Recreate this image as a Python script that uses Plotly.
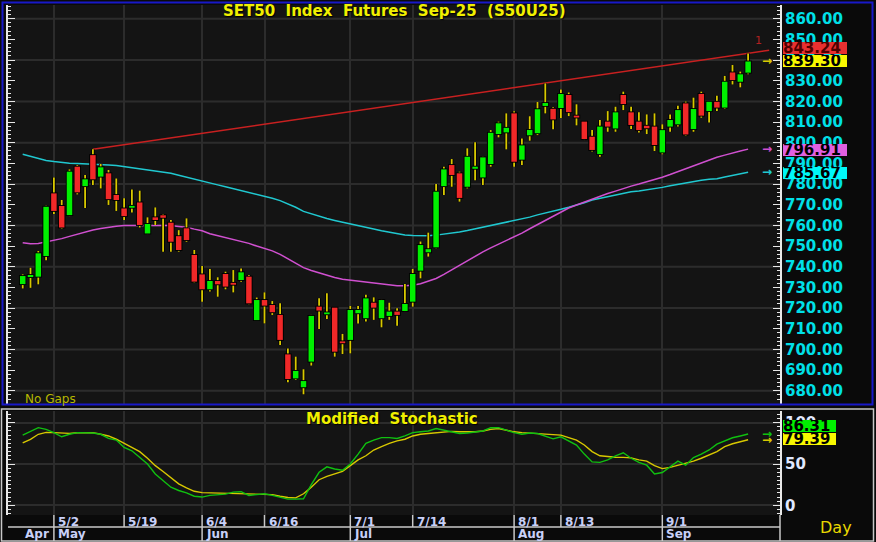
import plotly.graph_objects as go

W, H = 876, 542

# ---------------- data ----------------
opens = [731.6, 735.0, 735.2, 745.2, 775.5, 769.4, 765.0, 788.4, 779.0, 794.0,
         783.6, 785.2, 774.7, 768.2, 768.6, 771.1, 756.1, 763.9, 764.9, 761.3,
         754.8, 758.6, 745.7, 736.3, 729.1, 733.1, 736.5, 732.0, 733.6, 735.2,
         714.2, 723.9, 721.5, 716.7, 697.6, 686.0, 681.7, 694.1, 720.7, 717.1,
         720.2, 703.6, 704.6, 717.5, 715.1, 722.6, 715.1, 716.2, 718.3, 718.6,
         723.1, 738.1, 747.0, 749.4, 779.0, 789.2, 785.2, 778.7, 787.4, 783.2,
         789.7, 804.2, 805.0, 814.2, 791.8, 803.6, 804.6, 817.8, 816.4, 816.8,
         823.1, 812.8, 810.2, 802.9, 794.5, 810.2, 806.9, 823.1, 814.7, 810.2,
         808.2, 807.8, 795.3, 807.8, 808.9, 819.0, 806.6, 823.6, 815.3, 819.8,
         817.0, 834.0, 829.5, 833.9]
highs = [736.3, 739.5, 747.6, 769.5, 783.2, 772.3, 787.1, 789.2, 784.4, 796.8,
         789.7, 786.8, 782.7, 773.1, 777.4, 776.8, 763.9, 768.7, 765.5, 762.6,
         757.7, 763.4, 748.1, 740.4, 738.9, 734.9, 737.6, 738.4, 739.2, 736.0,
         725.1, 727.6, 723.4, 722.3, 700.5, 696.5, 690.4, 716.7, 724.7, 727.2,
         720.5, 707.5, 721.0, 721.0, 726.4, 725.2, 724.3, 722.6, 719.9, 731.7,
         738.9, 752.2, 756.5, 780.0, 788.4, 792.1, 786.0, 797.3, 800.2, 793.2,
         806.1, 810.2, 814.2, 815.2, 802.1, 812.8, 819.7, 828.7, 817.2, 825.8,
         824.3, 818.6, 810.5, 806.1, 811.0, 815.3, 817.4, 824.7, 817.4, 814.7,
         813.7, 814.2, 808.9, 813.7, 817.9, 819.9, 821.8, 824.7, 820.2, 822.7,
         832.3, 837.6, 834.4, 843.2]
lows = [729.5, 729.8, 731.5, 743.2, 765.5, 758.4, 764.5, 775.0, 768.4, 779.5,
        777.9, 769.9, 767.0, 762.6, 766.3, 759.0, 755.8, 760.2, 747.3, 747.3,
        747.3, 752.1, 732.3, 723.1, 728.0, 725.5, 729.1, 727.6, 732.8, 721.8,
        713.9, 712.6, 716.7, 702.2, 684.1, 685.2, 678.3, 692.2, 709.9, 714.7,
        696.5, 697.8, 698.1, 712.6, 713.5, 714.3, 710.7, 714.3, 711.5, 718.3,
        720.7, 734.4, 744.9, 748.9, 774.7, 778.7, 771.5, 777.9, 781.9, 779.5,
        788.4, 802.6, 796.8, 788.4, 789.2, 801.0, 803.7, 814.2, 806.5, 812.0,
        812.9, 808.4, 801.3, 795.7, 793.2, 805.3, 805.3, 815.8, 806.6, 805.0,
        804.2, 796.0, 794.4, 805.3, 807.8, 803.4, 805.3, 812.1, 809.8, 815.3,
        816.3, 828.2, 826.8, 833.1]
closes = [735.5, 736.0, 746.5, 769.0, 767.0, 759.0, 786.0, 776.0, 782.3, 782.3,
          788.1, 772.7, 772.3, 764.5, 769.4, 760.2, 760.7, 762.6, 763.7, 752.1,
          748.1, 752.9, 732.8, 729.1, 733.1, 731.5, 730.4, 731.5, 737.3, 722.3,
          723.9, 721.2, 718.0, 704.6, 685.7, 689.6, 684.7, 716.2, 718.8, 717.8,
          698.9, 703.3, 719.1, 719.1, 724.7, 720.2, 723.9, 718.3, 716.7, 722.0,
          736.5, 750.5, 748.5, 776.3, 787.1, 784.4, 773.3, 793.2, 788.4, 792.9,
          804.8, 809.4, 807.2, 790.8, 798.7, 806.2, 816.2, 819.2, 811.3, 823.6,
          814.8, 812.5, 801.8, 796.5, 807.8, 807.8, 814.7, 818.7, 808.6, 806.1,
          807.0, 798.9, 806.1, 811.0, 815.8, 804.0, 816.3, 813.1, 819.8, 817.0,
          829.5, 830.3, 833.1, 839.3]

ma_long = [794.4, 793.3, 792.2, 791.4, 790.9, 790.4, 790.1, 789.9, 789.8, 789.6,
           789.5, 789.2, 789.0, 788.5, 788.0, 787.5, 786.9, 786.4, 785.9, 785.2,
           784.3, 783.3, 782.3, 781.4, 780.5, 779.6, 778.7, 777.8, 777.0, 776.1,
           775.0, 774.1, 773.1, 772.0, 770.5, 768.8, 766.8, 765.6, 764.6, 763.3,
           762.4, 761.6, 761.0, 760.1, 759.3, 758.3, 757.4, 756.7, 756.0, 755.4,
           755.1, 754.9, 755.0, 755.3, 755.7, 756.2, 756.8, 757.5, 758.3, 759.2,
           760.0, 760.8, 761.8, 762.5, 763.1, 764.0, 765.1, 765.9, 766.9, 767.8,
           768.8, 769.8, 771.0, 772.3, 773.1, 773.9, 774.8, 775.7, 776.3, 776.7,
           777.2, 777.7, 778.4, 779.2, 779.9, 780.6, 781.3, 781.8, 782.3, 782.6,
           783.4, 784.2, 785.0, 785.67]
ma_short = [751.6, 751.1, 751.3, 752.0, 752.8, 753.6, 754.7, 755.8, 756.8, 757.8,
            758.5, 759.1, 759.6, 759.9, 760.0, 760.0, 760.0, 760.0, 759.9, 759.9,
            759.5, 759.1, 758.2, 757.4, 756.0, 755.1, 754.1, 753.1, 752.3, 751.3,
            750.0, 749.0, 747.7, 746.0, 743.8, 741.6, 739.6, 738.2, 737.0, 735.9,
            734.8, 734.0, 733.5, 733.1, 732.7, 732.2, 731.7, 731.2, 730.8, 730.8,
            731.0, 731.8, 732.9, 734.3, 736.3, 738.5, 740.6, 742.8, 745.2, 747.2,
            749.1, 750.9, 752.3, 754.2, 756.3, 758.4, 760.4, 762.2, 764.2, 766.4,
            768.4, 769.9, 771.3, 772.9, 774.2, 775.4, 776.6, 777.9, 779.0, 780.0,
            781.0, 782.2, 783.3, 784.6, 786.0, 787.6, 789.0, 790.5, 791.9, 793.0,
            794.0, 795.1, 796.0, 796.91]

stoch_k = [85, 90, 94, 92, 88, 83, 86, 88, 88, 87.5,
           86, 81, 79, 70, 66, 58, 50, 38, 30, 22,
           18, 15, 11, 10, 12, 13, 13.5, 16, 16.5, 12,
           13, 14, 12, 10, 7.5, 7.5, 8, 25, 40, 46.6,
           44, 42.5, 50, 62, 75, 79, 82, 82, 81, 84,
           88, 89, 90, 93, 91, 89, 87, 87.5, 88.3, 90,
           94, 94, 91, 88, 86, 87.5, 87, 84, 80.5, 83,
           78, 73, 62, 52.6, 52, 55, 60, 63.6, 57, 52,
           48.6, 38, 39.7, 47, 53.5, 48.6, 57.9, 62, 67, 74,
           78, 81.8, 84, 86.31]
stoch_d = [75.7, 79.8, 86, 88.3, 88, 87.5, 87.1, 87.9, 88, 88,
           86, 84, 80, 75, 71, 65, 57, 48, 41, 33,
           26, 21, 17, 15.4, 15.2, 15, 15, 14.8, 14.5, 14.2,
           13.8, 13.4, 13, 11, 9.5, 9, 14, 22, 31, 35,
           38, 41, 48, 55, 60, 67, 71, 75, 78, 80,
           84, 86, 87, 88, 89, 89.5, 89, 89, 89, 90,
           92, 93, 91, 89, 88, 87.5, 87, 86, 85.5, 85,
           82, 79, 73, 65, 60, 58.7, 58.3, 58, 57.5, 55,
           53.5, 48, 44.5, 46, 48.6, 50.5, 53.5, 57, 60.8, 65,
           71, 74.5, 77, 79.39]

# trendline: starts at the swing high, value 843.24 at the last bar
trend_idx = [9, 93]
trend_val = [796.8, 843.24]
trend_end_idx = 95.7

date_labels = ["5/2", "5/19", "6/4", "6/16", "7/1", "7/14", "8/1", "8/13", "9/1"]
date_idx = [4, 13, 23, 31, 42, 50, 63, 69, 82]
month_labels = ["Apr", "May", "Jun", "Jul", "Aug", "Sep"]
month_idx = [0, 4, 23, 42, 63, 82]

price_ticks = list(range(680, 861, 10))
price_grid = list(range(680, 861, 20))
stoch_ticks = [0, 50, 100]

# ---------------- geometry helpers ----------------
def px(x):
    return x / W

def py(y):
    return 1 - y / H

X0, X1 = 8, 780
MAIN_T, MAIN_B = 5, 404
ST_T, ST_B = 411, 515
XRANGE = [-1.885, 97.09]
YRANGE = [673.6, 866.63]
SRANGE = [-11.7, 114.2]

BG = "#141414"
GRID = "#2c2c2c"
GREEN = "#00f000"
RED = "#f02828"
WICK = "#d8c800"
CYAN = "#20c8d0"
MAG = "#d050d0"
TREND = "#c82020"

n = len(closes)
idx = list(range(n))

fig = go.Figure()

fig.add_trace(go.Scatter(x=idx, y=ma_long, mode="lines", line=dict(color=CYAN, width=1.5),
                         xaxis="x", yaxis="y", hoverinfo="skip"))
fig.add_trace(go.Scatter(x=idx, y=ma_short, mode="lines", line=dict(color=MAG, width=1.5),
                         xaxis="x", yaxis="y", hoverinfo="skip"))

slope = (trend_val[1] - trend_val[0]) / (trend_idx[1] - trend_idx[0])
t_end = trend_val[0] + slope * (trend_end_idx - trend_idx[0])
fig.add_trace(go.Scatter(x=[trend_idx[0], trend_end_idx], y=[trend_val[0], t_end], mode="lines",
                         line=dict(color=TREND, width=1.5), xaxis="x", yaxis="y", hoverinfo="skip"))

wx, wy = [], []
for i in idx:
    wx += [i, i, None]
    wy += [lows[i], highs[i], None]
fig.add_trace(go.Scatter(x=wx, y=wy, mode="lines", line=dict(color="#000000", width=3.5),
                         xaxis="x", yaxis="y", hoverinfo="skip"))
fig.add_trace(go.Scatter(x=wx, y=wy, mode="lines", line=dict(color=WICK, width=1.8),
                         xaxis="x", yaxis="y", hoverinfo="skip"))

MINB = 0.45
def body_segments(up):
    xs, ys, xo, yo = [], [], [], []
    for i in idx:
        o, c = opens[i], closes[i]
        if (c >= o) != up:
            continue
        lo, hi = min(o, c), max(o, c)
        if hi - lo < 2 * MINB:
            m = (hi + lo) / 2
            lo, hi = m - MINB, m + MINB
        xs += [i, i, None]
        ys += [lo, hi, None]
        xo += [i, i, None]
        yo += [lo - 0.45, hi + 0.45, None]
    return xs, ys, xo, yo

for up, col in [(True, GREEN), (False, RED)]:
    xs, ys, xo, yo = body_segments(up)
    fig.add_trace(go.Scatter(x=xo, y=yo, mode="lines", line=dict(color="#000000", width=7.5),
                             xaxis="x", yaxis="y", hoverinfo="skip"))
    fig.add_trace(go.Scatter(x=xs, y=ys, mode="lines", line=dict(color=col, width=5.5),
                             xaxis="x", yaxis="y", hoverinfo="skip"))

fig.add_trace(go.Scatter(x=idx, y=stoch_d, mode="lines", line=dict(color="#d8c800", width=1.4),
                         xaxis="x2", yaxis="y2", hoverinfo="skip"))
fig.add_trace(go.Scatter(x=idx, y=stoch_k, mode="lines", line=dict(color="#10c010", width=1.4),
                         xaxis="x2", yaxis="y2", hoverinfo="skip"))

# ---------------- layout ----------------
shapes = []
annotations = []

for v in price_grid:
    shapes.append(dict(type="line", xref="paper", yref="y", x0=px(X0), x1=px(X1), y0=v, y1=v,
                       line=dict(color=GRID, width=2), layer="below"))

shapes.append(dict(type="rect", xref="paper", yref="paper", x0=px(2.5), x1=px(872.5),
                   y0=py(404.5), y1=py(2.5), line=dict(color="#1818c8", width=2)))
shapes.append(dict(type="rect", xref="paper", yref="paper", x0=px(1.5), x1=px(873.5),
                   y0=py(541), y1=py(409), line=dict(color="#c8c8c8", width=1.5)))

SEP = "#c8c8c8"
shapes.append(dict(type="line", xref="paper", yref="paper", x0=px(X0), x1=px(X1),
                   y0=py(527), y1=py(527), line=dict(color=SEP, width=1.5)))
shapes.append(dict(type="line", xref="paper", yref="paper", x0=px(X1), x1=px(X1),
                   y0=py(541), y1=py(ST_B), line=dict(color=SEP, width=1.5)))
for i in date_idx:
    long_sep = i in month_idx
    shapes.append(dict(type="line", xref="x2", yref="paper", x0=i, x1=i,
                       y0=py(541 if long_sep else 527), y1=py(ST_B),
                       line=dict(color=SEP, width=1.5)))

DATE_COL = "#c8d0f8"
for lab, i in zip(date_labels, date_idx):
    annotations.append(dict(x=i, xref="x2", y=py(521.5), yref="paper", text=lab, showarrow=False,
                            xanchor="left", yanchor="middle", xshift=2,
                            font=dict(family="DejaVu Sans", size=12, color=DATE_COL, weight="bold")))
for lab, i in zip(month_labels, month_idx):
    annotations.append(dict(x=i, xref="x2", y=py(534), yref="paper", text=lab, showarrow=False,
                            xanchor="left", yanchor="middle", xshift=2 if i else 0,
                            font=dict(family="DejaVu Sans", size=12, color=DATE_COL, weight="bold")))

annotations.append(dict(x=px(394), y=py(11), xref="paper", yref="paper",
                        text="SET50  Index  Futures  Sep-25  (S50U25)", showarrow=False,
                        xanchor="center", yanchor="middle",
                        font=dict(family="DejaVu Sans", size=15, color="#f0f000", weight="bold",
                                  shadow="1px 1px 1px #000")))
annotations.append(dict(x=px(392), y=py(418.5), xref="paper", yref="paper",
                        text="Modified  Stochastic", showarrow=False,
                        xanchor="center", yanchor="middle",
                        font=dict(family="DejaVu Sans", size=15, color="#f0f000", weight="bold",
                                  shadow="1px 1px 1px #000")))
annotations.append(dict(x=px(23), y=py(398.5), xref="paper", yref="paper", text="No Gaps",
                        showarrow=False, xanchor="left", yanchor="middle",
                        font=dict(family="DejaVu Sans", size=12, color="#b8b800")))
annotations.append(dict(x=px(836), y=py(527), xref="paper", yref="paper", text="Day",
                        showarrow=False, xanchor="center", yanchor="middle",
                        font=dict(family="DejaVu Sans", size=16, color="#e8d800")))
annotations.append(dict(x=trend_end_idx, xref="x", y=t_end, yref="y", text="1", showarrow=False,
                        xanchor="right", yanchor="bottom", xshift=-5, yshift=1,
                        font=dict(family="DejaVu Sans", size=11, color="#b02020")))


def ypix(v):
    return MAIN_T + (YRANGE[1] - v) / (YRANGE[1] - YRANGE[0]) * (MAIN_B - MAIN_T)


def spix(v):
    return ST_T + (SRANGE[1] - v) / (SRANGE[1] - SRANGE[0]) * (ST_B - ST_T)


def value_box(text, y_center, bg, fg, width=64):
    annotations.append(dict(x=px(783), y=py(y_center), xref="paper", yref="paper", text=text,
                            showarrow=False, xanchor="left", yanchor="middle",
                            width=width, height=12, borderpad=0, borderwidth=0,
                            bgcolor=bg, align="left", valign="middle",
                            font=dict(family="DejaVu Sans", size=15, color=fg, weight="bold")))


def arrow(y, col):
    annotations.append(dict(x=px(767), y=py(y), xref="paper", yref="paper", text="→",
                            showarrow=False, xanchor="center", yanchor="middle",
                            font=dict(family="DejaVu Sans", size=12, color=col, weight="bold")))


last = n - 1
trend_last = trend_val[0] + slope * (last - trend_idx[0])
value_box(f"{trend_last:.2f}", ypix(closes[last]) - 13, "#e83030", "#500000")
value_box(f"{closes[last]:.2f}", ypix(closes[last]), "#f8f800", "#000000")
arrow(ypix(closes[last]), "#d8c800")
value_box(f"{ma_short[last]:.2f}", ypix(ma_short[last]) + 0.5, "#e060e0", "#000000")
arrow(ypix(ma_short[last]), MAG)
value_box(f"{ma_long[last]:.2f}", ypix(ma_long[last]) + 0.5, "#00f8f8", "#000000")
arrow(ypix(ma_long[last]), CYAN)
value_box(f"{stoch_k[last]:.2f}", spix(stoch_k[last]) - 8, "#00f000", "#000000", width=53)
arrow(spix(stoch_k[last]), "#10c010")
value_box(f"{stoch_d[last]:.2f}", spix(stoch_d[last]) - 1.2, "#f8f800", "#000000", width=53)
arrow(spix(stoch_d[last]), "#d8c800")

axis_common = dict(range=XRANGE, domain=[px(X0), px(X1)], tickvals=date_idx, showticklabels=False,
                   showgrid=True, gridcolor=GRID, gridwidth=2, zeroline=False, ticks="",
                   showline=False, fixedrange=True)

fig.update_layout(
    width=W, height=H, margin=dict(l=0, r=0, t=0, b=0),
    paper_bgcolor="#0a0a0a", plot_bgcolor=BG, showlegend=False,
    xaxis=dict(anchor="y", **axis_common),
    xaxis2=dict(anchor="y2", **axis_common),
    yaxis=dict(domain=[py(MAIN_B), py(MAIN_T)], range=YRANGE, side="right", anchor="x",
               tickvals=price_ticks, ticktext=[f"{v:.2f}" for v in price_ticks],
               ticks="inside", ticklen=7, tickwidth=1, tickcolor="#e8e8e8",
               minor=dict(dtick=2, ticks="inside", ticklen=3, tickcolor="#e8e8e8", showgrid=False),
               showline=True, linecolor="#e8e8e8", linewidth=2, mirror="ticks",
               showgrid=False, zeroline=False, fixedrange=True,
               tickfont=dict(family="DejaVu Sans", size=15, color="#00e0e8", weight="bold")),
    yaxis2=dict(domain=[py(ST_B), py(ST_T)], range=SRANGE, side="right", anchor="x2",
                tickvals=stoch_ticks, ticktext=[str(v) for v in stoch_ticks],
                ticks="inside", ticklen=7, tickwidth=1, tickcolor="#e8e8e8",
                minor=dict(dtick=5, ticks="inside", ticklen=3, tickcolor="#e8e8e8", showgrid=False),
                showline=True, linecolor="#e8e8e8", linewidth=2, mirror="ticks",
                showgrid=True, gridcolor=GRID, gridwidth=2, zeroline=False, fixedrange=True,
                tickfont=dict(family="DejaVu Sans", size=15, color="#e0e8ff", weight="bold")),
    shapes=shapes, annotations=annotations,
)

fig.write_html("out.html", config={"displayModeBar": False, "staticPlot": True},
               post_script="document.body.style.margin='0px';document.body.style.overflow='hidden';")
